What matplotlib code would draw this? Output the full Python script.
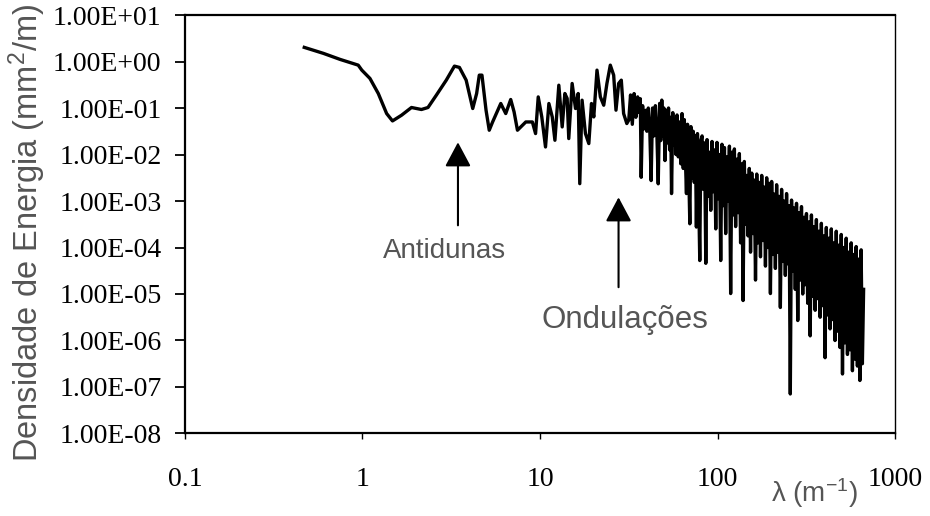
import numpy as np
import matplotlib.pyplot as plt

plt.rcParams['mathtext.default'] = 'regular'
plt.rcParams['path.simplify'] = False

# spectrum, as log10 values
# (wavenumber in m^-1, energy density in mm^2/m)
log_k_smooth = [-0.328, -0.220, -0.126, -0.024, -0.004, 0.042, 0.089, 0.136, 0.169, 0.220,
                0.276, 0.332, 0.369, 0.416, 0.472, 0.518, 0.546, 0.584, 0.621, 0.643,
                0.658, 0.673, 0.696, 0.714, 0.733, 0.779, 0.807, 0.835, 0.854, 0.873,
                0.920, 0.957, 0.975, 0.990, 1.010, 1.031, 1.050, 1.069, 1.084, 1.106,
                1.125, 1.140, 1.153, 1.162, 1.181, 1.200, 1.215, 1.224, 1.237, 1.256,
                1.275, 1.290, 1.303, 1.321, 1.340, 1.359, 1.377, 1.396, 1.415, 1.428,
                1.443, 1.458, 1.471, 1.489]
log_e_smooth = [0.304, 0.175, 0.045, -0.078, -0.185, -0.364, -0.688, -1.119, -1.278, -1.155,
                -0.989, -1.032, -0.989, -0.724, -0.401, -0.099, -0.127, -0.401, -1.011, -0.688,
                -0.293, -0.293, -1.047, -1.478, -1.300, -0.903, -1.119, -0.817, -1.084, -1.478,
                -1.300, -1.300, -1.550, -0.761, -1.192, -1.838, -0.903, -1.192, -1.694, -0.509,
                -1.407, -0.688, -0.795, -1.657, -0.472, -1.011, -0.688, -2.627, -0.832, -1.550,
                -1.765, -0.903, -1.192, -0.185, -0.761, -0.940, -0.472, -0.078, -0.293, -1.047,
                -0.472, -0.401, -1.119, -1.334]

log_k_mid = [1.500, 1.510, 1.520, 1.530, 1.540, 1.550, 1.560, 1.565, 1.570, 1.578,
             1.586, 1.594, 1.602, 1.610, 1.618, 1.626, 1.634, 1.642, 1.650, 1.658,
             1.666, 1.674, 1.680, 1.686, 1.692, 1.698, 1.704, 1.712, 1.718, 1.724,
             1.730, 1.736, 1.741, 1.748, 1.754, 1.760, 1.766, 1.772, 1.779, 1.786,
             1.793, 1.800, 1.807, 1.813, 1.819, 1.825, 1.831, 1.838, 1.844, 1.850,
             1.856, 1.863, 1.869, 1.875, 1.881, 1.887, 1.893, 1.900, 1.906]
log_e_mid = [-1.26, -0.72, -1.35, -0.69, -1.20, -0.76, -1.10, -0.80, -2.49, -0.95,
             -1.45, -1.05, -1.50, -1.00, -1.40, -2.56, -1.00, -1.60, -0.95, -1.50,
             -2.63, -0.90, -1.70, -0.83, -1.60, -1.00, -2.13, -1.05, -1.75, -1.00,
             -1.90, -1.20, -2.84, -1.10, -1.80, -1.25, -2.00, -1.15, -2.05, -1.30,
             -2.20, -1.12, -2.30, -1.25, -2.10, -2.84, -1.35, -2.40, -3.49, -1.40,
             -2.50, -1.50, -2.60, -1.60, -3.56, -1.55, -2.70, -4.28, -1.70]

log_k_dense = [1.913, 1.920, 1.927, 1.934, 1.941, 1.948, 1.955, 1.962, 1.969, 1.976,
               1.983, 1.990, 1.997, 2.004, 2.011, 2.018, 2.025, 2.032, 2.039, 2.046,
               2.053, 2.060, 2.067, 2.074, 2.081, 2.088, 2.095, 2.102, 2.109, 2.116,
               2.123, 2.130, 2.137, 2.144, 2.151, 2.158, 2.165, 2.172, 2.179, 2.186,
               2.193, 2.200, 2.207, 2.214, 2.221, 2.228, 2.235, 2.242, 2.249, 2.256,
               2.263, 2.270, 2.277, 2.284, 2.291, 2.298, 2.305, 2.312, 2.319, 2.326,
               2.333, 2.340, 2.347, 2.354, 2.361, 2.368, 2.375, 2.382, 2.389, 2.396,
               2.403, 2.410, 2.417, 2.424, 2.431, 2.438, 2.445, 2.452, 2.459, 2.466,
               2.473, 2.480, 2.487, 2.494, 2.501, 2.508, 2.515, 2.522, 2.529, 2.536,
               2.543, 2.550, 2.557, 2.564, 2.571, 2.578, 2.585, 2.592, 2.599, 2.606,
               2.613, 2.620, 2.627, 2.634, 2.641, 2.648, 2.655, 2.662, 2.669, 2.676,
               2.683, 2.690, 2.697, 2.704, 2.711, 2.718, 2.725, 2.732, 2.739, 2.746,
               2.753, 2.760, 2.767, 2.774, 2.781, 2.788, 2.795, 2.802, 2.809, 2.816,
               2.823]
log_e_dense = [-1.60, -2.75, -1.75, -4.34, -1.68, -2.90, -1.95, -3.20, -1.72, -2.80,
               -1.90, -3.60, -1.74, -2.95, -2.00, -4.28, -1.78, -3.10, -1.85, -3.70,
               -2.05, -3.00, -1.82, -4.99, -1.95, -3.30, -1.88, -3.55, -2.10, -3.25,
               -1.98, -3.90, -2.20, -5.14, -2.15, -3.50, -2.45, -3.75, -2.30, -4.10,
               -2.40, -3.70, -2.55, -4.70, -2.42, -3.90, -2.60, -4.20, -2.45, -3.85,
               -2.70, -4.40, -2.50, -4.00, -2.62, -4.99, -2.58, -4.15, -2.85, -4.45,
               -2.65, -4.10, -2.90, -5.29, -2.75, -4.30, -3.00, -4.60, -2.84, -4.35,
               -3.10, -7.15, -2.98, -4.50, -3.15, -4.90, -3.05, -5.57, -3.25, -4.70,
               -3.12, -5.00, -3.35, -4.80, -3.27, -5.20, -3.45, -5.90, -3.30, -5.05,
               -3.55, -5.35, -3.40, -5.10, -3.65, -5.50, -3.48, -5.25, -3.75, -6.37,
               -3.57, -5.45, -3.80, -5.75, -3.60, -5.55, -3.90, -6.00, -3.65, -5.80,
               -3.95, -6.15, -3.72, -6.72, -4.00, -6.05, -3.80, -6.30, -4.10, -6.20,
               -3.90, -6.65, -4.15, -6.40, -3.98, -6.55, -4.25, -6.86, -4.05, -6.50,
               -4.90]

xticks = [0.1, 1, 10, 100, 1000]
xtick_labels = ['0.1', '1', '10', '100', '1000']
yticks = [1e-8, 1e-7, 1e-6, 1e-5, 1e-4, 1e-3, 1e-2, 1e-1, 1e0, 1e1]
ytick_labels = ['1.00E-08', '1.00E-07', '1.00E-06', '1.00E-05', '1.00E-04',
                '1.00E-03', '1.00E-02', '1.00E-01', '1.00E+00', '1.00E+01']

k = 10.0 ** np.array(log_k_smooth + log_k_mid + log_k_dense)
e = 10.0 ** np.array(log_e_smooth + log_e_mid + log_e_dense)

GRAY = '#555555'

fig = plt.figure(figsize=(9.3, 5.16), dpi=100)
ax = fig.add_axes([0.1989, 0.1599, 0.7635, 0.811])

ax.plot(k, e, color='black', lw=2.4, solid_joinstyle='round')
ax.set_xscale('log')
ax.set_yscale('log')
ax.set_xlim(0.1, 1000)
ax.set_ylim(1e-8, 1e1)

ax.set_xticks(xticks)
ax.set_xticklabels(xtick_labels, fontfamily='Liberation Serif', fontsize=20)
ax.set_yticks(yticks)
ax.set_yticklabels(ytick_labels, fontfamily='Liberation Serif', fontsize=20)
ax.minorticks_off()
ax.tick_params(axis='y', direction='out', length=7, width=1.3, pad=10)
ax.tick_params(axis='x', direction='out', length=4, width=1.0, pad=20)

for side in ['left', 'bottom', 'top']:
    ax.spines[side].set_linewidth(1.6)
ax.spines['right'].set_linewidth(1.0)

# annotations
ax.annotate('', xy=(3.45, 0.0183), xytext=(3.45, 3.0e-4),
            arrowprops=dict(arrowstyle='-|>,head_length=0.75,head_width=0.4',
                            color='black', lw=1.5, mutation_scale=20,
                            shrinkA=0, shrinkB=0))
ax.annotate('', xy=(27.7, 1.2e-3), xytext=(27.7, 1.4e-5),
            arrowprops=dict(arrowstyle='-|>,head_length=0.75,head_width=0.4',
                            color='black', lw=1.5, mutation_scale=20,
                            shrinkA=0, shrinkB=0))
ax.text(2.9, 8.6e-5, 'Antidunas', fontfamily='Liberation Sans', fontsize=20,
        color=GRAY, ha='center', va='center')
ax.text(29.9, 2.7e-6, 'Ondulações', fontfamily='Liberation Sans', fontsize=22.5,
        color=GRAY, ha='center', va='center')

fig.text(814 / 930, 1 - 493 / 516, 'λ (m$^{-1}$)', fontfamily='Liberation Sans',
         fontsize=20, color=GRAY, ha='center', va='center')
fig.text(27 / 930, 1 - 233 / 516, 'Densidade de Energia (mm$^2$/m)',
         fontfamily='Liberation Sans', fontsize=23.5, color=GRAY,
         rotation=90, ha='center', va='center')

fig.savefig('out.png', dpi=100)
